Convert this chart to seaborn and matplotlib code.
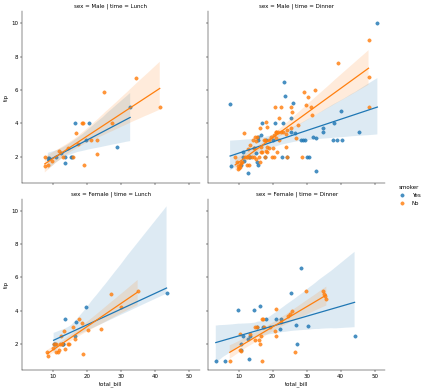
import pandas as pd
import numpy as np
import matplotlib
matplotlib.use("Agg")
import matplotlib.pyplot as plt
import seaborn as sns

# values, one list per panel and smoker group
male_lunch_yes_bill = [8.5, 8.7, 10.8, 13.5, 13.5, 15.5, 16.6, 20.7, 19.7, 28.7, 32.7, 12.5, 15.2]
male_lunch_yes_tip = [1.9, 1.9, 2.0, 1.6, 2.0, 2.0, 4.0, 4.0, 3.0, 2.55, 5.0, 2.2, 2.0]
male_lunch_no_bill = [7.6, 7.7, 8.5, 9.7, 11.7, 13.1, 14.3, 16.0, 17.4, 16.7, 18.4, 18.7,
                      19.1, 21.3, 22.9, 22.9, 24.9, 27.3, 34.5, 41.4]
male_lunch_no_tip = [2.0, 1.43, 1.5, 1.73, 2.32, 2.0, 2.5, 2.0, 2.73, 3.43, 4.0, 4.0,
                     1.5, 3.0, 3.0, 2.18, 5.87, 4.0, 6.7, 5.0]

male_dinner_yes_bill = [50.8, 7.5, 7.9, 12.8, 23.3, 23.5, 26.0, 25.3, 40.1, 38.1, 45.3, 34.8,
                        34.8, 31.8, 32.9, 37.9, 38.9, 40.5, 28.3, 29.0, 29.6, 26.7, 20.6, 23.1,
                        17.0, 15.8, 15.7, 22.7, 24.2, 30.0, 30.7, 32.8, 11.25, 11.4, 11.7, 15.4,
                        15.8, 15.1, 17.7, 10.6, 13.0, 14.5, 16.5, 18.0, 25.5, 20.0, 13.5]
male_dinner_yes_tip = [10.0, 5.16, 1.43, 1.0, 6.5, 5.65, 5.2, 4.3, 4.73, 4.0, 3.5, 3.7,
                       3.5, 3.18, 3.1, 3.0, 3.0, 3.0, 3.0, 3.0, 3.0, 3.4, 4.04, 4.0,
                       4.02, 3.2, 3.0, 2.0, 2.0, 2.0, 2.0, 1.16, 2.0, 2.3, 1.75, 1.7,
                       1.5, 2.2, 2.0, 1.5, 2.0, 2.5, 3.3, 3.0, 3.5, 3.0, 2.0]
male_dinner_no_bill = [48.2, 39.2, 48.2, 48.2, 29.2, 32.5, 30.5, 31.3, 29.8, 31.7, 20.7, 22.4,
                       25.4, 25.6, 21.9, 18.0, 18.4, 16.3, 11.7, 14.8, 15.0, 13.5, 14.1, 17.4,
                       17.9, 19.4, 21.0, 21.7, 22.5, 23.1, 24.2, 23.9, 25.4, 26.8, 18.3, 18.8,
                       18.0, 18.5, 16.7, 20.0, 21.2, 23.9, 19.8, 20.4, 24.2, 28.6, 17.9, 16.4,
                       14.6, 12.4, 13.1, 13.8, 12.9, 9.0, 9.4, 9.8, 10.2, 9.9, 10.5, 10.3,
                       12.4, 21.1, 15.1, 20.9, 12.0, 16.0, 19.0, 22.0, 13.0, 15.5, 17.0, 20.5,
                       27.5, 10.6, 11.0, 14.5, 16.5]
male_dinner_no_tip = [9.0, 7.6, 6.75, 5.0, 5.9, 6.0, 5.6, 5.0, 5.1, 4.5, 5.0, 5.0,
                      5.0, 4.7, 4.3, 4.1, 3.75, 3.7, 3.4, 3.2, 2.95, 2.7, 3.0, 3.0,
                      3.0, 3.2, 3.5, 3.5, 3.5, 3.5, 3.6, 3.35, 3.7, 3.1, 2.55, 2.5,
                      2.35, 2.3, 2.6, 2.5, 2.25, 2.55, 2.0, 2.0, 2.0, 2.0, 2.0, 1.7,
                      2.0, 2.0, 2.0, 2.0, 2.45, 2.0, 1.65, 1.45, 1.32, 1.25, 1.35, 1.5,
                      1.5, 3.1, 1.85, 3.5, 2.0, 2.0, 3.0, 3.0, 1.5, 3.2, 2.3, 3.3,
                      3.9, 1.6, 1.7, 2.5, 2.25]

female_lunch_yes_bill = [43.4, 19.8, 13.5, 16.7, 16.5, 10.2, 13.1, 12.8, 10.5, 13.0]
female_lunch_yes_tip = [5.03, 4.2, 3.5, 3.29, 2.5, 2.0, 2.0, 2.0, 2.0, 2.0]
female_lunch_no_bill = [27.1, 34.9, 30.0, 17.6, 18.4, 16.0, 13.2, 12.4, 16.5, 20.3, 24.2, 8.3,
                        8.5, 10.3, 11.0, 12.0, 12.7, 14.4, 14.8, 11.0, 11.5, 11.8, 13.4, 18.7,
                        10.1]
female_lunch_no_tip = [5.0, 5.2, 4.2, 3.5, 3.25, 3.0, 2.75, 2.5, 2.3, 2.85, 2.92, 1.5,
                       1.25, 2.0, 2.0, 2.0, 2.0, 2.0, 2.0, 1.5, 1.5, 1.65, 1.7, 1.4,
                       1.75]

female_dinner_yes_bill = [28.3, 25.4, 9.8, 14.4, 16.4, 18.2, 20.9, 22.5, 15.3, 17.2, 26.8, 30.3,
                          22.1, 11.4, 13.4, 44.1, 12.9, 10.8, 10.8, 27.1, 13.1, 3.3, 5.9]
female_dinner_yes_tip = [6.55, 5.04, 4.02, 4.02, 4.3, 3.5, 3.5, 3.5, 3.04, 3.04, 3.16, 3.08,
                         2.9, 2.5, 2.5, 2.5, 2.27, 2.0, 1.63, 2.0, 1.1, 1.0, 1.0]
female_dinner_no_bill = [29.9, 34.9, 35.2, 35.4, 35.8, 21.0, 25.6, 25.0, 24.4, 16.9, 17.3, 14.7,
                         15.3, 17.4, 19.2, 22.6, 20.7, 20.9, 16.5, 10.5, 14.8, 15.9, 16.2, 10.5,
                         10.8, 7.4, 17.0, 26.7, 13.3]
female_dinner_no_tip = [5.15, 5.2, 5.0, 4.9, 4.67, 4.1, 4.0, 3.8, 3.65, 3.5, 3.5, 3.0,
                        3.0, 3.0, 3.0, 3.3, 2.75, 2.45, 2.5, 2.6, 2.25, 2.25, 2.0, 1.65,
                        1.6, 1.0, 1.0, 1.5, 2.6]

groups = [
    ("Male", "Lunch", "Yes", male_lunch_yes_bill, male_lunch_yes_tip),
    ("Male", "Lunch", "No", male_lunch_no_bill, male_lunch_no_tip),
    ("Male", "Dinner", "Yes", male_dinner_yes_bill, male_dinner_yes_tip),
    ("Male", "Dinner", "No", male_dinner_no_bill, male_dinner_no_tip),
    ("Female", "Lunch", "Yes", female_lunch_yes_bill, female_lunch_yes_tip),
    ("Female", "Lunch", "No", female_lunch_no_bill, female_lunch_no_tip),
    ("Female", "Dinner", "Yes", female_dinner_yes_bill, female_dinner_yes_tip),
    ("Female", "Dinner", "No", female_dinner_no_bill, female_dinner_no_tip),
]

frames = []
for sex, time, smoker, bill, tip in groups:
    frames.append(pd.DataFrame({"total_bill": bill, "tip": tip,
                                "sex": sex, "time": time, "smoker": smoker}))
tips = pd.concat(frames, ignore_index=True)

g = sns.lmplot(data=tips, x="total_bill", y="tip", row="sex", col="time", hue="smoker",
               row_order=["Male", "Female"], col_order=["Lunch", "Dinner"],
               hue_order=["Yes", "No"], seed=0)

# fit the whole figure to the reference size
w, h = g.figure.get_size_inches()
dpi = 427 / w
g.figure.set_size_inches(w, 396 / dpi)
g.tight_layout()
g.savefig("out.png", dpi=dpi)
